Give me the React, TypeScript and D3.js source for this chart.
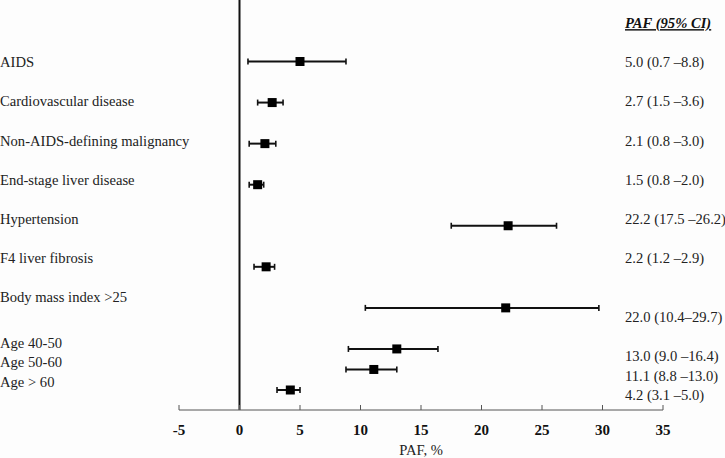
import React from 'react';
import * as d3 from 'd3';

// forest plot of population attributable fractions
const factors = [
  'AIDS',
  'Cardiovascular disease',
  'Non-AIDS-defining malignancy',
  'End-stage liver disease',
  'Hypertension',
  'F4 liver fibrosis',
  'Body mass index >25',
  'Age 40-50',
  'Age 50-60',
  'Age > 60',
];
const paf = [5.0, 2.7, 2.1, 1.5, 22.2, 2.2, 22.0, 13.0, 11.1, 4.2];
const ciLow = [0.7, 1.5, 0.8, 0.8, 17.5, 1.2, 10.4, 9.0, 8.8, 3.1];
const ciHigh = [8.8, 3.6, 3.0, 2.0, 26.2, 2.9, 29.7, 16.4, 13.0, 5.0];
const xTicks = [-5, 0, 5, 10, 15, 20, 25, 30, 35];
// this row's CI is printed without the space before the dash
const tightDash = ['Body mass index >25'];

const W = 725;
const H = 458;
const FONT = '"Liberation Serif", "Times New Roman", serif';

// the age rows are packed tighter than the others
const markSlot = [0, 1, 2, 3, 4, 5, 6, 7, 7.5, 8];
const labelSlot = [0, 1, 2, 3, 4, 5, 6, 7.17, 7.66, 8.17];
const ciSlot = [0, 1, 2, 3, 4, 5, 6.5, 7.5, 8, 8.5];

const fmt = d3.format('.1f');

export default function App() {
  const x = d3.scaleLinear().domain([-5, 35]).range([179, 663]);
  const yMark = d3.scaleLinear().domain([0, 8]).range([61.5, 390]);
  const yText = d3.scaleLinear().domain([0, 1]).range([62, 101.2]);
  const axisY = 410;
  const box = 9;
  const cap = 3;
  const fs = 14.6;

  return (
    <svg
      width={W}
      height={H}
      style={{ position: 'absolute', left: 0, top: 0, background: '#fdfdfd' }}
      fontFamily={FONT}
    >
      {/* zero reference line */}
      <line x1={x(0)} x2={x(0)} y1={0} y2={axisY} stroke="#111" strokeWidth={2} />

      {/* row labels */}
      {factors.map((f, i) => (
        <text key={f} x={0} y={yText(labelSlot[i])} dy="0.35em" fontSize={fs} fill="#222">
          {f}
        </text>
      ))}

      {/* estimates */}
      {paf.map((v, i) => {
        const cy = yMark(markSlot[i]);
        return (
          <g key={i}>
            <line x1={x(ciLow[i])} x2={x(ciHigh[i])} y1={cy} y2={cy} stroke="#111" strokeWidth={2} />
            <line x1={x(ciLow[i])} x2={x(ciLow[i])} y1={cy - cap} y2={cy + cap} stroke="#111" strokeWidth={1.6} />
            <line x1={x(ciHigh[i])} x2={x(ciHigh[i])} y1={cy - cap} y2={cy + cap} stroke="#111" strokeWidth={1.6} />
            <rect x={x(v) - box / 2} y={cy - box / 2} width={box} height={box} fill="#000" />
          </g>
        );
      })}

      {/* right hand column */}
      <text
        x={625}
        y={23}
        dy="0.35em"
        fontSize={fs}
        fontWeight="bold"
        fontStyle="italic"
        textDecoration="underline"
        fill="#111"
      >
        PAF (95% CI)
      </text>
      {paf.map((v, i) => (
        <text key={i} x={625} y={yText(ciSlot[i])} dy="0.35em" fontSize={fs} fill="#222">
          {`${fmt(v)} (${fmt(ciLow[i])}${tightDash.includes(factors[i]) ? '' : ' '}\u2013${fmt(ciHigh[i])})`}
        </text>
      ))}

      {/* x axis */}
      <line x1={x(-5)} x2={x(35)} y1={axisY} y2={axisY} stroke="#555" strokeWidth={1} />
      {xTicks.map((t) => (
        <g key={t}>
          <line x1={x(t)} x2={x(t)} y1={axisY - 5} y2={axisY} stroke="#555" strokeWidth={1} />
          <text x={x(t)} y={430} dy="0.35em" textAnchor="middle" fontSize={15} fontWeight="bold" fill="#111">
            {t}
          </text>
        </g>
      ))}
      <text x={x(15)} y={450} dy="0.35em" textAnchor="middle" fontSize={fs} fill="#222">
        PAF, %
      </text>
    </svg>
  );
}
